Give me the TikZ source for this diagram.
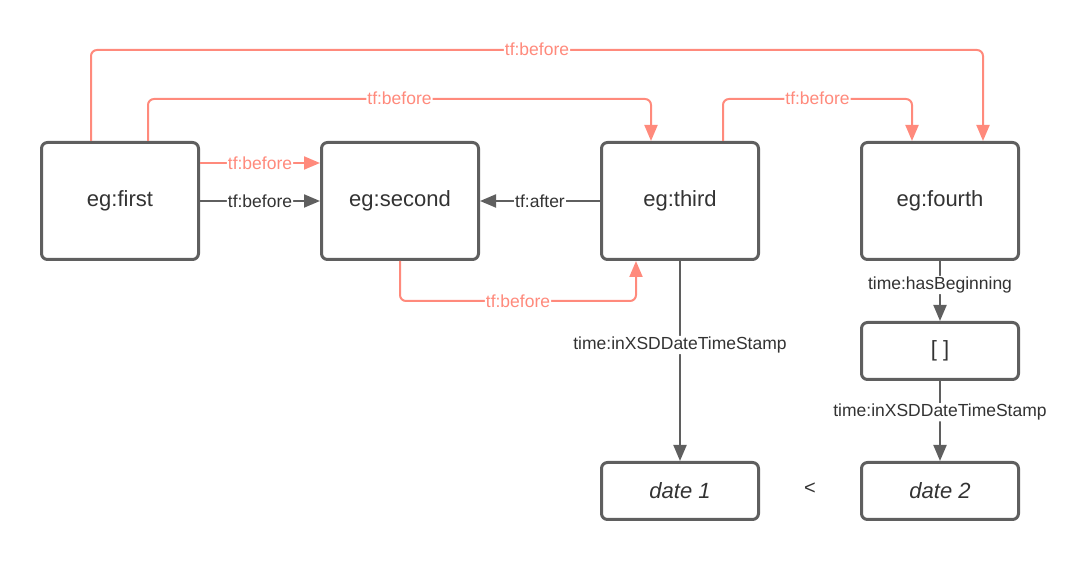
\documentclass[tikz,border=0pt]{standalone}
\usepackage{fontspec}
\setmainfont{Liberation Sans}
\usepackage{tikz}
\usetikzlibrary{arrows.meta, positioning, calc}

\definecolor{boxgray}{HTML}{5F5F5F}
\definecolor{txtgray}{HTML}{333333}
\definecolor{salmon}{HTML}{FF8A7C}

\tikzset{
    res/.style={draw=boxgray, line width=3pt, rounded corners=6pt, minimum width=157pt, minimum height=117pt, text=txtgray, font=\fontsize{22}{26}\selectfont},
    lit/.style={res, minimum height=57pt},
    rel/.style={draw=boxgray, line width=2pt, -{Triangle[length=16pt,width=13pt]}, rounded corners=6pt},
    before/.style={rel, draw=salmon, salmon},
    lbl/.style={fill=white, inner sep=1pt, text=txtgray, font=\fontsize{17.5}{20}\selectfont},
    slbl/.style={lbl, text=salmon}
}

\begin{document}
\begin{tikzpicture}[x=1pt, y=1pt]
        \useasboundingbox (0,0) rectangle (1088,561);

        % risorse
        \node[res] (first) at (120,360) {eg:first};
        \node[res] (second) at (400,360) {eg:second};
        \node[res] (third) at (680,360) {eg:third};
        \node[res] (fourth) at (940,360) {eg:fourth};
        \node[lit] (blank) at (940,210) {[ ]};
        \node[lit] (dateone) at (680,70) {\itshape date 1};
        \node[lit] (datetwo) at (940,70) {\itshape date 2};
        \node[text=txtgray, font=\fontsize{20}{24}\selectfont] (lt) at (810,72) {<};

        % archi sopra
        \draw[before] ([xshift=-29pt]first.north) -- ++(0,91) -| node[slbl, pos=0.25, yshift=1pt] {tf:before} ([xshift=43pt]fourth.north);
        \draw[before] ([xshift=28pt]first.north) -- ++(0,42) -| node[slbl, pos=0.25, yshift=1pt] {tf:before} ([xshift=-29pt]third.north);
        \draw[before] ([xshift=43pt]third.north) -- ++(0,42) -| node[slbl, pos=0.25, yshift=1pt] {tf:before} ([xshift=-28pt]fourth.north);

        % archi orizzontali
        \draw[before] ([yshift=38pt]first.east) -- node[slbl] {tf:before} ([yshift=38pt]second.west);
        \draw[rel] (first) -- node[lbl] {tf:before} (second);
        \draw[rel] (third) -- node[lbl] {tf:after} (second);

        % arco sotto
        \draw[before] (second.south) -- ++(0,-40) -| node[slbl, pos=0.25] {tf:before} ([xshift=-44pt]third.south);

        % archi verticali
        \draw[rel] (third) -- node[lbl, pos=0.42] {time:inXSDDateTimeStamp} (dateone);
        \draw[rel] (fourth) -- node[lbl, pos=0.4] {time:hasBeginning} (blank);
        \draw[rel] (blank) -- node[lbl, pos=0.39] {time:inXSDDateTimeStamp} (datetwo);
    \end{tikzpicture}
\end{document}
